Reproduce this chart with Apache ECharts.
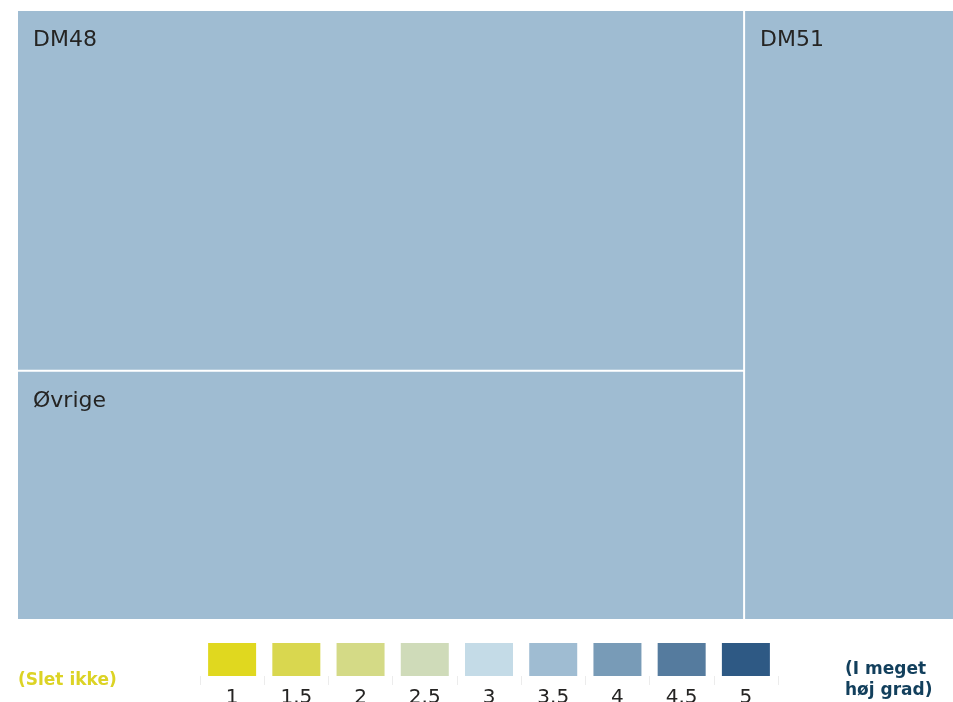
<!DOCTYPE html>
<html><head><meta charset="utf-8">
<script src="https://cdn.jsdelivr.net/npm/echarts@6/dist/echarts.min.js"></script>
<style>html,body{margin:0;padding:0;background:#fff}#c{width:953px;height:702px}</style>
</head><body><div id="c"></div>
<script>
const names = ['DM48', 'Øvrige', 'DM51'];
const sizes = [45.9, 31.7, 22.4];
const scores = [3.5, 3.5, 3.5];
const legendLabels = ['1', '1.5', '2', '2.5', '3', '3.5', '4', '4.5', '5'];
const legendColors = ['#e0d81f', '#d9d74f', '#d4da86', '#cfdbb9', '#c4dbe7', '#9fbcd2', '#789bb7', '#557b9e', '#2e5984'];
const lowText = '(Slet ikke)';
const highText = '(I meget\nhøj grad)';

function colorFor(s){ return legendColors[legendLabels.indexOf(String(s))]; }

const chart = echarts.init(document.getElementById('c'), null, {renderer:'canvas'});
const font = 'DejaVu Sans, Verdana, sans-serif';
chart.setOption({
  animation:false,
  grid:{left:200, width:578, top:643, height:33, outerBoundsMode:'none', containLabel:false},
  xAxis:{type:'category', data:legendLabels,
    axisLine:{show:false},
    axisTick:{show:true, length:9, lineStyle:{color:'#ececec'}},
    axisLabel:{fontSize:20, color:'#252423', fontFamily:font, margin:12}},
  yAxis:{type:'value', min:0, max:1, show:false},
  series:[
    {type:'bar', barWidth:48, silent:true,
     data:legendLabels.map((l,i)=>({value:1, itemStyle:{color:legendColors[i]}}))},
    {type:'treemap', left:18, top:11, width:935, height:608,
     roam:false, nodeClick:false, breadcrumb:{show:false},
     levels:[{itemStyle:{borderWidth:0, gapWidth:2, borderColor:'#fff'}}],
     label:{show:true, position:'insideTopLeft', fontSize:22, color:'#252423', fontFamily:font, offset:[10,13.5]},
     itemStyle:{borderWidth:0, gapWidth:2},
     data:names.map((n,i)=>({name:n, value:sizes[i], itemStyle:{color:colorFor(scores[i])}}))}
  ],
  graphic:[
    {type:'text', left:18, top:672, style:{text:lowText, fill:'#dcd325', font:'bold 17px '+font}},
    {type:'text', left:845, top:659, style:{text:highText, fill:'#123f5c', font:'bold 17px '+font, align:'center', lineHeight:21}}
  ]
});
</script></body></html>
